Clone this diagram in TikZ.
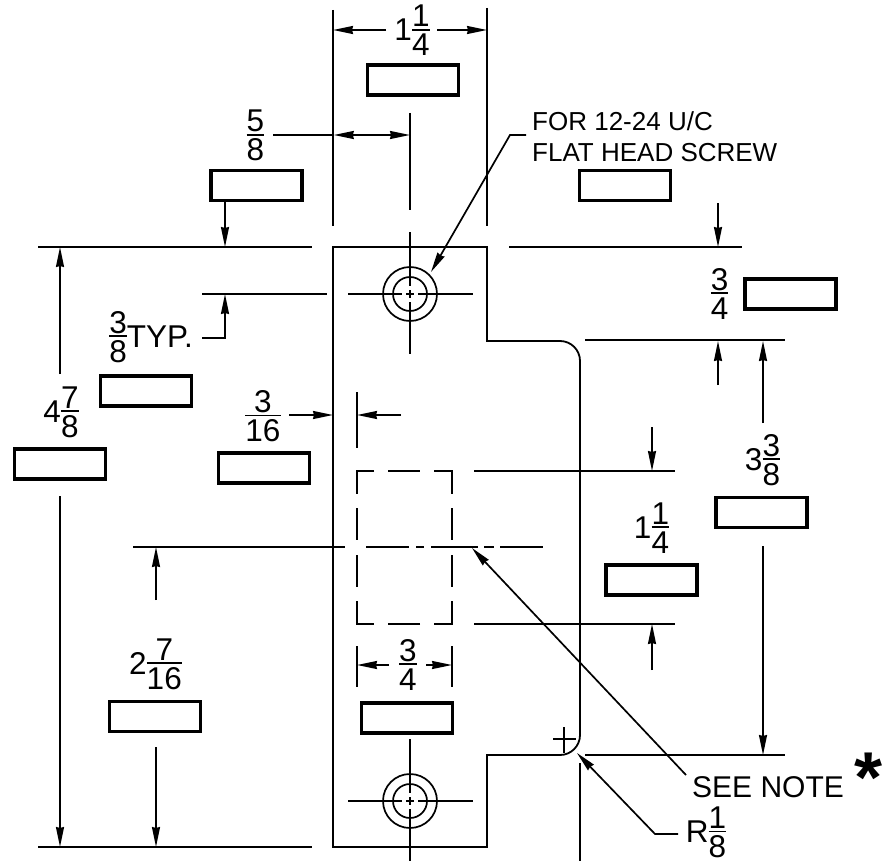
\documentclass[tikz,border=0pt]{standalone}
\usepackage{fontspec}
\setmainfont{Liberation Sans}
\usetikzlibrary{arrows.meta}
% stacked fraction whose baseline is the bar; a lone figure is set by \wh, centred on the bar
\newcommand{\fr}[2]{{\setbox0\hbox{#1}\setbox2\hbox{#2}%
  \dimen0=\ifdim\wd0>\wd2 \wd0\else\wd2\fi
  \hbox{\rlap{\vrule height .8pt depth .8pt width \dimen0}%
  \rlap{\hbox to\dimen0{\hfil\raise 3pt\box0\hfil}}%
  \hbox to\dimen0{\hfil\lower 26pt\box2\hfil}}}}
\newcommand{\wh}[1]{\lower 11pt\hbox{#1}}
\tikzset{
  ln/.style={line width=1.7pt,line cap=butt},
  arr/.style={ln,-{Stealth[length=20pt,width=8pt,inset=1pt]}},
  obj/.style={line width=1.8pt,line join=miter},
  blank/.style={draw,line width=3.4pt,minimum width=91pt,minimum height=30pt,inner sep=0pt,anchor=center},
  dim/.style={font=\fontsize{31.5}{31.5}\selectfont,inner sep=0pt,anchor=base},
  note/.style={font=\fontsize{26}{31}\selectfont,inner sep=0pt,align=left},
}
\begin{document}
\begin{tikzpicture}[x=1pt,y=-1pt]
\useasboundingbox (0,0) rectangle (882,861);
% part outline
\draw[obj] (333,247) -- (487,247) -- (487,341) -- (560,341) arc[start angle=90,end angle=0,x radius=20,y radius=-20] -- (580,735) arc[start angle=0,end angle=-90,x radius=20,y radius=-20] -- (487,755) -- (487,847) -- (333,847) -- cycle;
% holes
\foreach \c/\n in {294/a,801/b}{
  \node[circle,draw,line width=1.7pt,minimum size=54pt,inner sep=0pt] (outer\n) at (410,\c) {};
  \node[circle,draw,line width=1.7pt,minimum size=34pt,inner sep=0pt] (inner\n) at (410,\c) {};
  \draw[ln] (348,\c) -- (402,\c) (406,\c) -- (414,\c) (418,\c) -- (473,\c);
  \draw[ln] (410,\c-62) -- (410,\c-8) (410,\c-4) -- (410,\c+4) (410,\c+8) -- (410,\c+60);
}
% cut-out, dashed
\draw[ln] (374,471) -- (357,471) -- (357,494) (388,471) -- (420,471) (434,471) -- (452,471) -- (452,494)
  (357,508) -- (357,540) (357,555) -- (357,587) (357,601) -- (357,624) -- (374,624)
  (452,508) -- (452,540) (452,555) -- (452,587) (452,601) -- (452,624) -- (434,624) (420,624) -- (388,624);
% centre line
\draw[ln] (133,547) -- (345,547) (366,547) -- (409,547) (416,547) -- (424,547) (431,547) -- (478,547) (484,547) -- (494,547) (500,547) -- (543,547);
% extension lines
\draw[ln] (333,10) -- (333,226) (487,8) -- (487,226) (410,113) -- (410,210);
\draw[ln] (38,247) -- (312,247) (509,247) -- (742,247) (202,294) -- (327,294);
\draw[ln] (585,340) -- (785,340) (585,755) -- (785,755) (38,847) -- (312,847);
\draw[ln] (474,471) -- (675,471) (474,624) -- (675,624);
\draw[ln] (357,392) -- (357,448) (357,646) -- (357,687) (452,646) -- (452,687) (580,763) -- (580,861);
\draw[ln] (553,739) -- (576,739) (564,727) -- (564,753);
% blanks
\node[blank] (b1) at (413,80) {};
\node[blank] (b2) at (256.5,185.5) {};
\node[blank] (b3) at (625,185.5) {};
\node[blank] (b4) at (790.5,294) {};
\node[blank] (b5) at (146,391) {};
\node[blank] (b6) at (60,464) {};
\node[blank] (b7) at (264,468) {};
\node[blank] (b8) at (761.5,512.5) {};
\node[blank] (b9) at (651.5,580) {};
\node[blank] (b10) at (155,716.5) {};
\node[blank] (b11) at (407,718) {};
% dimension texts
\node[dim] (t1) at (412,30) {\wh{1}\fr{1}{4}};
\node[dim] (t2) at (255.5,135) {\fr{5}{8}};
\node[dim] (t3) at (719.5,293) {\fr{3}{4}};
\node[dim] (t4) at (151,336) {\fr{3}{8}\wh{TYP.}};
\node[dim] (t5) at (61,411) {\wh{4}\fr{7}{8}};
\node[dim] (t6) at (263,415.5) {\fr{3}{16}};
\node[dim] (t7) at (762.5,459) {\wh{3}\fr{3}{8}};
\node[dim] (t8) at (651.5,527) {\wh{1}\fr{1}{4}};
\node[dim] (t9) at (155.5,663) {\wh{2}\fr{7}{16}};
\node[dim] (t10) at (408,664) {\fr{3}{4}};
\node[dim] (t11) at (706,831.5) {\wh{R}\fr{1}{8}};
\node[note,anchor=west] (n1) at (532,137) {FOR 12-24 U/C\\FLAT HEAD SCREW};
\node[note,anchor=west,font=\fontsize{30}{30}\selectfont] (n2) at (692,787) {SEE NOTE};
\node[inner sep=0pt,font=\fontsize{72}{72}\selectfont\bfseries] (n3) at (868,778) {*};
% dimension arrows
\draw[arr] (386,30) -- (333,30);
\draw[arr] (437,30) -- (487,30);
\draw[ln] (273,135) -- (333,135);
\draw[arr] (372,135) -- (333.8,135);
\draw[arr] (372,135) -- (410,135);
\draw[arr] (225,201) -- (225,247);
\draw[arr] (718,203) -- (718,247);
\draw[arr] (718,385) -- (718,341);
\draw[arr] (763,423) -- (763,341);
\draw[arr] (763,546) -- (763,755);
\draw[arr] (202,338) -- (225,338) -- (225,294);
\draw[arr] (60,374) -- (60,247);
\draw[arr] (60,496) -- (60,847);
\draw[arr] (289,415) -- (333,415);
\draw[arr] (401,415) -- (357,415);
\draw[arr] (652,427) -- (652,471);
\draw[arr] (652,670) -- (652,624);
\draw[arr] (156,600) -- (156,547);
\draw[arr] (156,747) -- (156,847);
\draw[arr] (389,665) -- (357,665);
\draw[arr] (426,665) -- (452,665);
% leaders
\draw[arr] (526,135) -- (510,135) -- (431,272);
\draw[arr] (686,775) -- (472,548);
\draw[arr] (678,834) -- (655,834) -- (577,753);
\end{tikzpicture}
\end{document}
